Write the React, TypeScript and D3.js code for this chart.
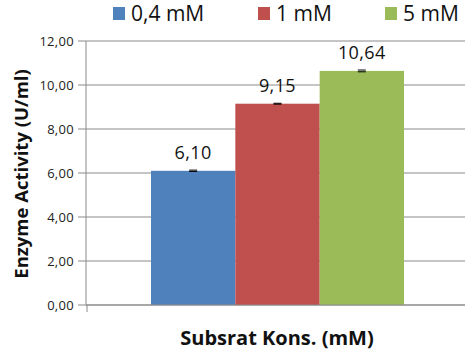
import React from "react";
import * as d3 from "d3";

const categories = ["0,4 mM", "1 mM", "5 mM"];
const values = [6.1, 9.15, 10.64];
const errors = [0.03, 0.02, 0.04];
const colors = ["#4F81BD", "#C0504D", "#9BBB59"];
const yTicks = [0, 2, 4, 6, 8, 10, 12];

const W = 465;
const H = 356;
const font = "'Open Sans', 'Liberation Sans', sans-serif";

export default function App() {
  const plotLeft = 86;
  const plotRight = 465;
  const y = d3.scaleLinear().domain([0, 12]).range([305, 41]);
  const x = d3.scaleBand<string>().domain(categories).range([151, 404]).padding(0);
  const fmt = (v: number) => v.toFixed(2).replace(".", ",");
  const legendX = [113, 258, 385];

  return (
    <svg
      width={W}
      height={H}
      style={{ position: "absolute", left: 0, top: 0, background: "#fff", fontFamily: font }}
    >
      {/* gridlines and y tick labels */}
      {yTicks.map((t) => (
        <g key={t}>
          <line x1={plotLeft} x2={plotRight} y1={y(t)} y2={y(t)} stroke="#8a8a8a" strokeWidth={1} />
          <line x1={78} x2={plotLeft} y1={y(t)} y2={y(t)} stroke="#8a8a8a" strokeWidth={1} />
          <text x={74} y={y(t)} dy="0.35em" textAnchor="end" fontSize={13} letterSpacing={0.3} fill="#222">
            {fmt(t)}
          </text>
        </g>
      ))}
      {/* y axis */}
      <line x1={plotLeft} x2={plotLeft} y1={y(12)} y2={y(0)} stroke="#8a8a8a" />
      <line x1={plotLeft + 1} x2={plotLeft + 1} y1={y(0)} y2={y(0) + 7} stroke="#8a8a8a" />

      {/* bars */}
      {categories.map((c, i) => (
        <g key={c}>
          <rect x={x(c)} y={y(values[i])} width={x.bandwidth()} height={y(0) - y(values[i])} fill={colors[i]} />
          <line
            x1={x(c)! + x.bandwidth() / 2 - 4}
            x2={x(c)! + x.bandwidth() / 2 + 4}
            y1={y(values[i] + errors[i])}
            y2={y(values[i] + errors[i])}
            stroke="#000"
          />
          <line
            x1={x(c)! + x.bandwidth() / 2 - 4}
            x2={x(c)! + x.bandwidth() / 2 + 4}
            y1={y(values[i] - errors[i])}
            y2={y(values[i] - errors[i])}
            stroke="#000"
          />
          <text
            x={x(c)! + x.bandwidth() / 2}
            y={y(values[i]) - 12}
            textAnchor="middle"
            fontSize={18}
            letterSpacing={0.4}
            fill="#111"
          >
            {values[i].toFixed(2).replace(".", ",")}
          </text>
        </g>
      ))}
      {/* axis baseline over bars */}
      <line x1={plotLeft} x2={plotRight} y1={y(0)} y2={y(0)} stroke="#8a8a8a" />

      {/* legend */}
      {categories.map((c, i) => (
        <g key={"lg" + c}>
          <rect x={legendX[i]} y={7} width={12} height={13} fill={colors[i]} />
          <text x={legendX[i] + 18} y={21} fontSize={21} fill="#111">
            {c}
          </text>
        </g>
      ))}

      {/* axis titles */}
      <text
        transform={`translate(28,${(60 + 288) / 2}) rotate(-90)`}
        textAnchor="middle"
        fontSize={18.5}
        fontWeight="bold"
        fill="#111"
      >
        Enzyme Activity (U/ml)
      </text>
      <text x={277} y={345} textAnchor="middle" fontSize={20} fontWeight="bold" fill="#111">
        Subsrat Kons. (mM)
      </text>
    </svg>
  );
}
